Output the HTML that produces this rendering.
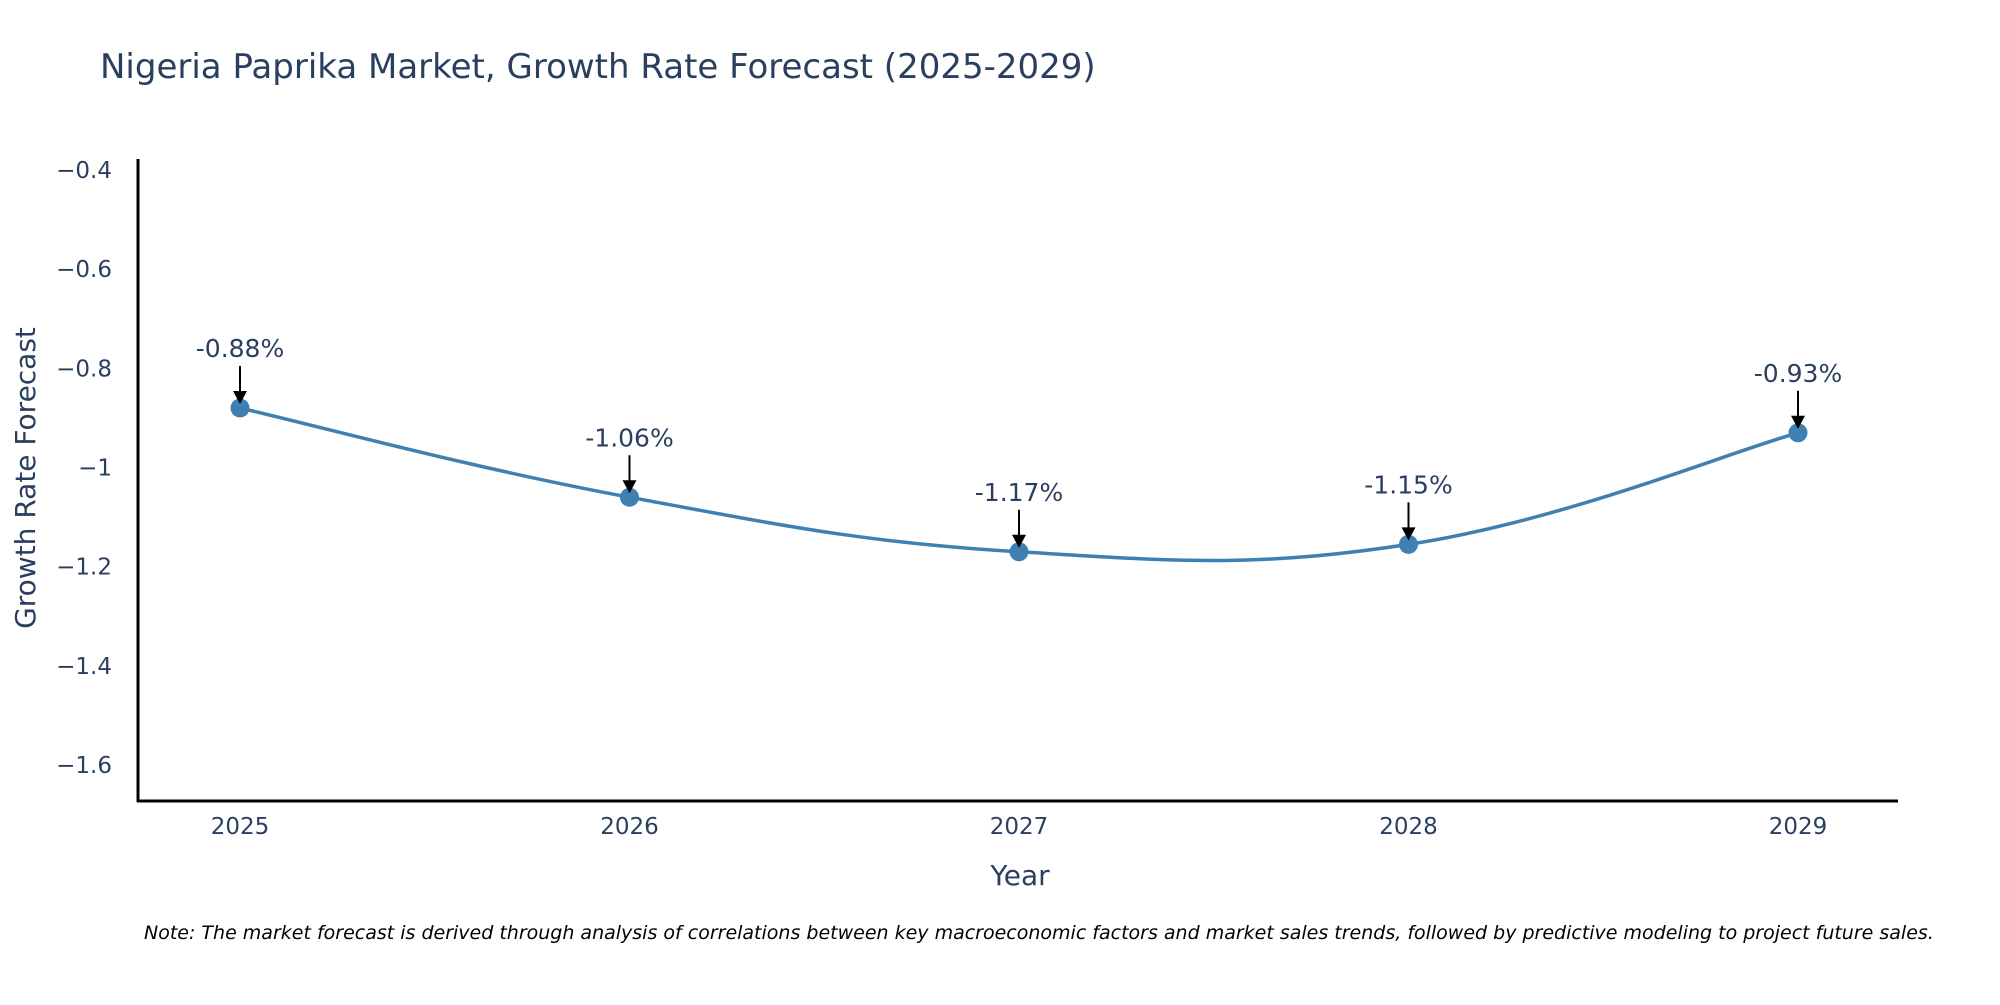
<!DOCTYPE html>
<html><head><meta charset="utf-8"><style>
html,body{margin:0;padding:0;background:#fff;}
svg text{font-family:"DejaVu Sans","Liberation Sans",sans-serif;fill:#2a3f5f;}
</style></head><body>
<svg id="chart" width="2000" height="1000" viewBox="0 0 2000 1000" xmlns="http://www.w3.org/2000/svg">
<text x="100" y="78" font-size="34">Nigeria Paprika Market, Growth Rate Forecast (2025-2029)</text>
<g id="yticks"></g>
<g id="xticks"></g>
<line x1="138" y1="159" x2="138" y2="802" stroke="#000" stroke-width="3"/>
<line x1="137" y1="801" x2="1898" y2="801" stroke="#000" stroke-width="3"/>
<text transform="translate(35,478) rotate(-90)" text-anchor="middle" font-size="28">Growth Rate Forecast</text>
<text x="1020" y="885" text-anchor="middle" font-size="28">Year</text>
<g id="series"></g>
<text x="144" y="939" font-size="19" font-style="italic" style="fill:#000">Note: The market forecast is derived through analysis of correlations between key macroeconomic factors and market sales trends, followed by predictive modeling to project future sales.</text>
</svg>
<script>
const years = [2025, 2026, 2027, 2028, 2029];
const growth = [-0.88, -1.06, -1.17, -1.155, -0.93];
const labels = ["-0.88%", "-1.06%", "-1.17%", "-1.15%", "-0.93%"];
const yTickValues = [-0.4, -0.6, -0.8, -1, -1.2, -1.4, -1.6];
const yTickLabels = ["\u22120.4", "\u22120.6", "\u22120.8", "\u22121", "\u22121.2", "\u22121.4", "\u22121.6"];

const NS = "http://www.w3.org/2000/svg";
function xPos(yr){ return 240 + (yr - 2025) * (1798 - 240) / 4; }
function yPos(v){ return 170 + (-0.4 - v) / 1.2 * 595; }
function mk(tag, attrs, parent){ const e = document.createElementNS(NS, tag); for (const k in attrs) e.setAttribute(k, attrs[k]); parent.appendChild(e); return e; }

const yt = document.getElementById('yticks');
yTickValues.forEach((v, i) => {
  const t = mk('text', {x: 112, y: yPos(v) + 8, 'text-anchor': 'end', 'font-size': 23}, yt);
  
  
  t.textContent = yTickLabels[i];
});
const xt = document.getElementById('xticks');
years.forEach(yr => {
  const t = mk('text', {x: xPos(yr), y: 834, 'text-anchor': 'middle', 'font-size': 23}, xt);
  
  
  t.textContent = String(yr);
});

const g = document.getElementById('series');
const pts = years.map((yr, i) => [xPos(yr), yPos(growth[i])]);
let d = "M" + pts[0][0] + "," + pts[0][1];
const s = 0.2;
for (let i = 0; i < pts.length - 1; i++) {
  const p0 = pts[Math.max(i - 1, 0)], p1 = pts[i], p2 = pts[i + 1], p3 = pts[Math.min(i + 2, pts.length - 1)];
  const c1 = [p1[0] + (p2[0] - p0[0]) * s, p1[1] + (p2[1] - p0[1]) * s];
  const c2 = [p2[0] - (p3[0] - p1[0]) * s, p2[1] - (p3[1] - p1[1]) * s];
  d += " C" + c1.join(",") + " " + c2.join(",") + " " + p2.join(",");
}
const line = mk('path', {d: d, fill: 'none', stroke: '#3f80b3', 'stroke-width': 3.5}, g);



pts.forEach((p, i) => {
  const c = mk('circle', {cx: p[0], cy: p[1], r: 9.5, fill: '#3f80b3'}, g);
  
  
  const a = mk('line', {x1: p[0], y1: p[1] - 42, x2: p[0], y2: p[1] - 14, stroke: '#000', 'stroke-width': 2}, g);
  
  
  const h = mk('polygon', {points: (p[0]-7)+","+(p[1]-17)+" "+(p[0]+7)+","+(p[1]-17)+" "+p[0]+","+(p[1]-4), fill: '#000'}, g);
  
  
  const t = mk('text', {x: p[0], y: p[1] - 51, 'text-anchor': 'middle', 'font-size': 25}, g);
  
  
  t.textContent = labels[i];
});
</script>
</body></html>
